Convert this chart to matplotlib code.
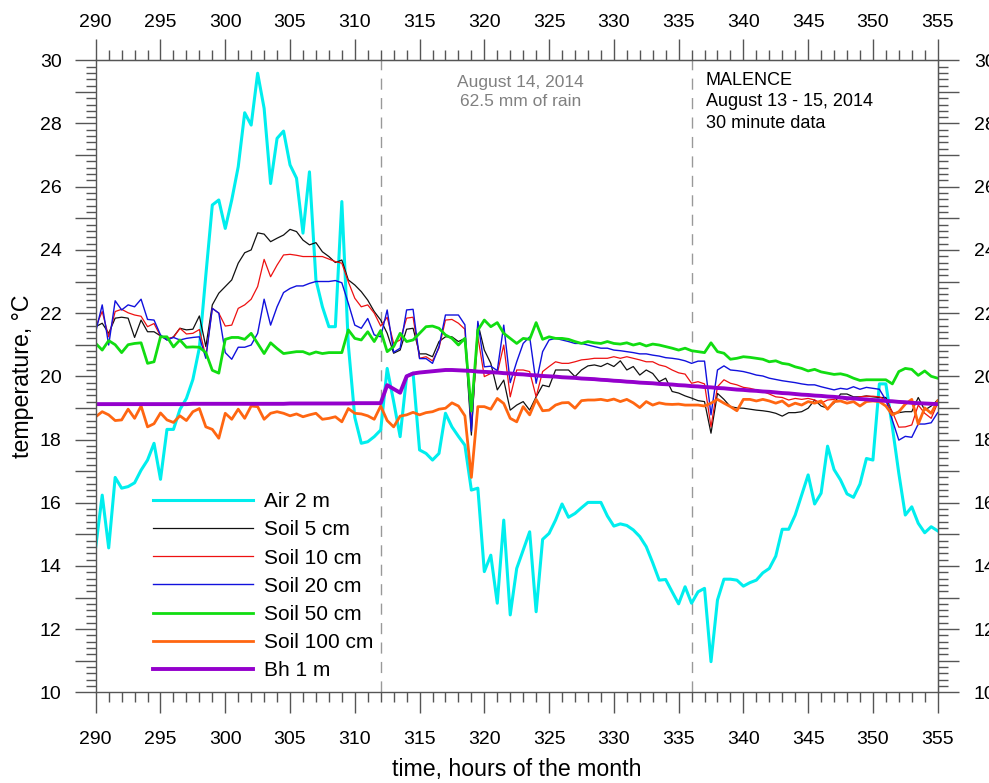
import numpy as np
import matplotlib
matplotlib.use("Agg")
import matplotlib.pyplot as plt
from matplotlib.ticker import MultipleLocator, FuncFormatter

plt.rcParams['font.family'] = ['Liberation Sans', 'DejaVu Sans']

# ----- 30 minute records, August 13 - 15, 2014 (hours of the month) -----
hours = np.arange(290.0, 355.5, 0.5)

air_2m = [
    14.6, 16.24, 14.57, 16.8, 16.46, 16.51, 16.63, 17.03, 17.35, 17.88,
    16.74, 18.32, 18.32, 18.95, 19.3, 19.9, 20.9, 23.2, 25.42, 25.58,
    24.68, 25.58, 26.63, 28.34, 27.95, 29.59, 28.48, 26.1, 27.53, 27.76,
    26.69, 26.27, 24.53, 26.47, 23.05, 22.2, 21.57, 21.57, 25.53, 21.0,
    18.7, 17.88, 17.93, 18.09, 18.3, 20.25, 19.2, 18.09, 20.0, 20.1,
    17.67, 17.56, 17.35, 17.56, 18.83, 18.4, 18.1, 17.82, 16.4, 16.46,
    13.82, 14.34, 12.82, 15.45, 12.45, 13.92, 14.5, 15.08, 12.55, 14.84,
    15.03, 15.45, 15.96, 15.54, 15.66, 15.84, 16.01, 16.01, 16.01, 15.58,
    15.26, 15.33, 15.28, 15.14, 14.93, 14.61, 14.1, 13.55, 13.57, 13.18,
    12.8, 13.34, 12.82, 13.18, 13.29, 10.97, 12.92, 13.58, 13.58, 13.55,
    13.36, 13.47, 13.55, 13.78, 13.92, 14.31, 15.16, 15.16, 15.61, 16.24,
    16.88, 15.96, 16.3, 17.79, 17.05, 16.72, 16.28, 16.17, 16.59, 17.4,
    17.35, 19.76, 19.76, 18.4, 16.93, 15.61, 15.87, 15.35, 15.05, 15.24,
    15.11,
]

soil_5cm = [
    21.57, 21.68, 21.36, 21.84, 21.87, 21.84, 21.23, 21.78, 21.41, 21.41,
    21.28, 21.15, 21.25, 21.52, 21.47, 21.49, 21.91, 20.94, 22.26, 22.63,
    22.84, 23.05, 23.58, 23.91, 24.0, 24.54, 24.5, 24.26, 24.37, 24.47,
    24.65, 24.58, 24.31, 24.16, 24.23, 23.94, 23.79, 23.6, 23.68, 23.05,
    22.89, 22.68, 22.41, 22.05, 21.78, 21.36, 20.73, 20.83, 21.49, 21.52,
    20.71, 20.71, 20.62, 21.1, 21.25, 21.25, 21.1, 21.2, 18.14, 21.68,
    20.83, 20.41, 19.57, 19.88, 18.93, 19.09, 19.2, 18.93, 19.35, 19.72,
    19.67, 20.2, 20.2, 20.2, 19.99, 20.2, 20.33, 20.36, 20.31, 20.41,
    20.31, 20.49, 20.2, 20.31, 20.04, 20.2, 20.09, 19.83, 19.94, 19.52,
    19.47, 19.38, 19.31, 19.23, 19.2, 18.2, 19.46, 19.27, 19.04, 19.0,
    18.99, 18.96, 18.93, 18.91, 18.88, 18.83, 18.74, 18.85, 18.85, 18.88,
    18.99, 19.25, 19.06, 18.99, 19.15, 19.44, 19.44, 19.35, 19.35, 19.38,
    19.35, 19.33, 19.33, 18.83, 18.85, 18.88, 18.88, 19.33, 18.93, 19.06,
    19.25,
]

soil_10cm = [
    21.57, 22.05, 21.25, 22.05, 22.12, 22.01, 21.94, 21.9, 21.57, 21.67,
    21.27, 21.2, 21.23, 21.52, 21.34, 21.36, 21.48, 20.62, 22.15, 22.0,
    21.59, 21.62, 22.15, 22.26, 22.44, 22.84, 23.7, 23.15, 23.52, 23.84,
    23.86, 23.83, 23.79, 23.79, 23.79, 23.79, 23.71, 23.63, 23.58, 22.99,
    22.47, 22.2, 22.26, 22.0, 21.59, 21.87, 21.04, 21.15, 21.84, 21.87,
    20.57, 20.62, 20.49, 20.89, 21.78, 21.8, 21.68, 21.49, 18.4, 21.25,
    19.99, 20.09, 20.09, 20.99, 19.35, 20.2, 20.2, 20.15, 19.35, 20.15,
    20.31, 20.46, 20.41, 20.41, 20.46, 20.52, 20.54, 20.57, 20.57, 20.57,
    20.62, 20.57, 20.62, 20.57, 20.52, 20.46, 20.46, 20.36, 20.31, 20.2,
    20.11, 20.07, 19.78, 19.83, 19.76, 18.4, 19.67, 19.89, 19.78, 19.73,
    19.65, 19.62, 19.57, 19.52, 19.44, 19.35, 19.33, 19.25, 19.3, 19.27,
    19.3, 19.25, 19.15, 19.25, 19.27, 19.33, 19.25, 19.3, 19.35, 19.37,
    19.37, 19.35, 19.25, 18.88, 18.39, 18.4, 18.46, 19.09, 18.83, 18.67,
    19.15,
]

soil_20cm = [
    21.41, 22.26, 20.99, 22.39, 22.1, 22.26, 22.2, 22.44, 21.8, 21.78,
    21.31, 21.15, 21.23, 21.15, 21.2, 21.23, 21.25, 20.57, 22.15, 22.0,
    20.75, 20.54, 20.92, 20.92, 20.99, 21.36, 22.44, 21.62, 22.2, 22.65,
    22.78, 22.86, 22.86, 22.94, 23.0, 23.0, 23.0, 23.03, 22.96, 22.31,
    21.62, 21.52, 21.83, 21.31, 21.25, 22.1, 20.76, 20.89, 22.1, 22.12,
    20.56, 20.56, 20.41, 20.94, 21.94, 21.94, 21.94, 21.63, 18.26, 21.74,
    20.3, 20.32, 20.18, 21.62, 19.8, 20.46, 21.04, 21.25, 19.78, 20.78,
    21.15, 21.2, 21.15, 21.1, 21.04, 21.04, 20.99, 20.94, 20.89, 20.89,
    20.83, 20.81, 20.78, 20.75, 20.71, 20.71, 20.67, 20.64, 20.59, 20.57,
    20.54, 20.49, 20.41, 20.48, 20.48, 18.78, 20.2, 20.33, 20.2, 20.18,
    20.15, 20.1, 20.04, 20.01, 19.94, 19.9, 19.86, 19.83, 19.8, 19.76,
    19.73, 19.73, 19.67, 19.62, 19.57, 19.62, 19.59, 19.67, 19.59, 19.65,
    19.62, 19.59, 19.25, 18.62, 17.98, 18.1, 18.07, 18.49, 18.49, 18.53,
    18.85,
]

soil_50cm = [
    21.04, 20.83, 21.13, 21.0, 20.75, 21.0, 21.04, 21.06, 20.41, 20.46,
    21.25, 21.25, 20.93, 21.15, 20.92, 20.93, 20.92, 20.75, 20.19, 20.1,
    21.17, 21.23, 21.23, 21.17, 21.36, 21.04, 20.72, 21.06, 20.88, 20.72,
    20.75, 20.78, 20.78, 20.7, 20.77, 20.72, 20.75, 20.75, 20.75, 21.47,
    21.2, 21.15, 21.41, 21.1, 21.45, 20.78, 20.94, 21.36, 21.1, 21.15,
    21.36, 21.57, 21.59, 21.52, 21.31, 21.2, 20.99, 21.2, 18.9, 21.46,
    21.78, 21.57, 21.7, 21.36, 21.2, 21.04, 21.2, 21.17, 21.7, 21.17,
    21.25, 21.2, 21.2, 21.17, 21.1, 21.04, 21.1, 21.06, 21.04, 21.1,
    21.04, 21.02, 21.06, 20.99, 21.04, 20.96, 21.02, 20.99, 20.94, 20.89,
    20.83, 20.89, 20.81, 20.78, 20.75, 21.06, 20.78, 20.73, 20.54, 20.57,
    20.62, 20.6, 20.57, 20.54, 20.46, 20.49, 20.41, 20.38, 20.3, 20.25,
    20.17, 20.22, 20.14, 20.1, 20.06, 20.08, 20.03, 19.94, 19.87, 19.89,
    19.89, 19.89, 19.89, 19.76, 20.15, 20.25, 20.22, 20.03, 20.17, 20.0,
    19.94,
]

soil_100cm = [
    18.72, 18.88, 18.78, 18.6, 18.62, 18.96, 18.67, 19.06, 18.4, 18.5,
    18.84, 18.62, 18.54, 18.75, 18.6, 18.88, 18.98, 18.4, 18.32, 18.04,
    18.83, 18.64, 18.96, 18.67, 19.06, 19.04, 18.64, 18.83, 18.88, 18.83,
    18.75, 18.81, 18.72, 18.78, 18.83, 18.64, 18.67, 18.72, 18.56, 18.98,
    18.83, 18.81, 18.75, 18.64, 19.06, 18.6, 18.4, 18.74, 18.78, 18.86,
    18.78, 18.85, 18.88, 18.96, 18.99, 19.16, 19.06, 18.75, 16.8, 19.04,
    19.04, 18.96, 19.3, 19.14, 18.67, 18.56, 19.04, 18.78, 19.27, 18.91,
    18.93, 19.09, 19.16, 19.17, 18.99, 19.23, 19.25, 19.25, 19.27, 19.23,
    19.28, 19.2, 19.27, 19.16, 19.01, 19.2, 19.09, 19.16, 19.12, 19.11,
    19.12, 19.09, 19.09, 19.09, 19.06, 19.15, 19.27, 19.15, 19.04, 18.91,
    19.27, 19.27, 19.22, 19.27, 19.22, 19.15, 19.22, 19.06, 19.15, 19.09,
    19.2, 19.15, 19.22, 18.96, 19.2, 19.22, 19.15, 19.2, 19.06, 19.2,
    19.22, 19.2, 19.06, 18.78, 18.88, 19.12, 19.27, 18.49, 19.0, 18.83,
    19.22,
]

bh_1m = [
    19.12, 19.12, 19.12, 19.12, 19.12, 19.12, 19.12, 19.12, 19.12, 19.12,
    19.12, 19.12, 19.12, 19.12, 19.12, 19.13, 19.13, 19.13, 19.13, 19.13,
    19.13, 19.13, 19.13, 19.13, 19.13, 19.13, 19.13, 19.13, 19.13, 19.13,
    19.14, 19.14, 19.14, 19.14, 19.14, 19.14, 19.14, 19.14, 19.14, 19.14,
    19.15, 19.15, 19.15, 19.15, 19.15, 19.72, 19.6, 19.48, 20.0, 20.09,
    20.12, 20.14, 20.16, 20.18, 20.2, 20.2, 20.19, 20.18, 20.17, 20.15,
    20.14, 20.13, 20.12, 20.1, 20.09, 20.07, 20.06, 20.04, 20.03, 20.01,
    20.0, 19.99, 19.97, 19.96, 19.95, 19.93, 19.92, 19.91, 19.89, 19.88,
    19.86, 19.85, 19.83, 19.82, 19.8, 19.79, 19.78, 19.76, 19.75, 19.74,
    19.72, 19.71, 19.69, 19.68, 19.66, 19.65, 19.63, 19.62, 19.6, 19.58,
    19.57, 19.55, 19.54, 19.52, 19.51, 19.49, 19.47, 19.46, 19.44, 19.42,
    19.41, 19.39, 19.38, 19.36, 19.35, 19.33, 19.31, 19.3, 19.28, 19.27,
    19.25, 19.24, 19.22, 19.21, 19.19, 19.18, 19.16, 19.15, 19.14, 19.13,
    19.12,
]

series = [
    ("Air 2 m", air_2m, "#00EEEE", 2.2),
    ("Soil 5 cm", soil_5cm, "#111111", 0.9),
    ("Soil 10 cm", soil_10cm, "#EE1111", 0.9),
    ("Soil 20 cm", soil_20cm, "#1111DD", 1.0),
    ("Soil 50 cm", soil_50cm, "#11DD11", 2.0),
    ("Soil 100 cm", soil_100cm, "#FF6611", 2.0),
    ("Bh 1 m", bh_1m, "#9400CC", 2.8),
]

rain_day = (312, 336)
axis_col = "#555555"


def even_only(v, pos):
    return f"{v:.0f}" if round(v) % 2 == 0 else ""


def style_ticks(a, which_axis, pad):
    a.tick_params(axis=which_axis, which="both", direction="out", color=axis_col,
                  width=1.0, labelsize=14)
    a.tick_params(axis=which_axis, which="major", length=15, pad=pad)
    a.tick_params(axis=which_axis, which="minor", length=7.5)


fig = plt.figure(figsize=(9.89, 7.83), dpi=100)
ax = fig.add_axes([0.0968, 0.1158, 0.8513, 0.8072])

for label, vals, col, lw in series:
    assert len(vals) == len(hours), label
    ax.plot(hours, vals, color=col, lw=lw, label=label)

for xv in rain_day:
    ax.axvline(xv, color="#999999", lw=1.0, ls=(0, (8, 6)), zorder=0)

ax.text(322.8, 29.0, "August 14, 2014\n62.5 mm of rain", ha="center", va="center",
        fontsize=12.5, color="#808080", linespacing=1.36)
ax.text(337.1, 29.64, "MALENCE\nAugust 13 - 15, 2014\n30 minute data", ha="left", va="top",
        fontsize=13, color="black", linespacing=1.36)

ax.set_xlim(290, 355)
ax.set_ylim(10, 30)
ax.xaxis.set_major_locator(MultipleLocator(5))
ax.xaxis.set_minor_locator(MultipleLocator(1))
ax.yaxis.set_major_locator(MultipleLocator(1))
ax.yaxis.set_minor_locator(MultipleLocator(0.2))
ax.yaxis.set_major_formatter(FuncFormatter(even_only))
style_ticks(ax, "x", 13)
style_ticks(ax, "y", 9.5)
for sp in ax.spines.values():
    sp.set_color(axis_col)
    sp.set_linewidth(1.0)

# top and right axes repeat the scales with their own label offsets
top = ax.secondary_xaxis("top")
top.xaxis.set_major_locator(MultipleLocator(5))
top.xaxis.set_minor_locator(MultipleLocator(1))
style_ticks(top, "x", 6)
top.spines["top"].set_color(axis_col)

right = ax.secondary_yaxis("right")
right.yaxis.set_major_locator(MultipleLocator(1))
right.yaxis.set_minor_locator(MultipleLocator(0.2))
right.yaxis.set_major_formatter(FuncFormatter(even_only))
style_ticks(right, "y", 11)
right.spines["right"].set_color(axis_col)

ax.set_xlabel("time, hours of the month", fontsize=16.7, labelpad=7)
ax.set_ylabel("temperature, °C", fontsize=16.7, labelpad=4)

ax.legend(loc="upper left", bbox_to_anchor=(0.068, 0.3165), frameon=False, fontsize=15,
          handlelength=4.8, handletextpad=0.53, labelspacing=0.44, borderpad=0, borderaxespad=0)

fig.savefig("out.png", dpi=100)
